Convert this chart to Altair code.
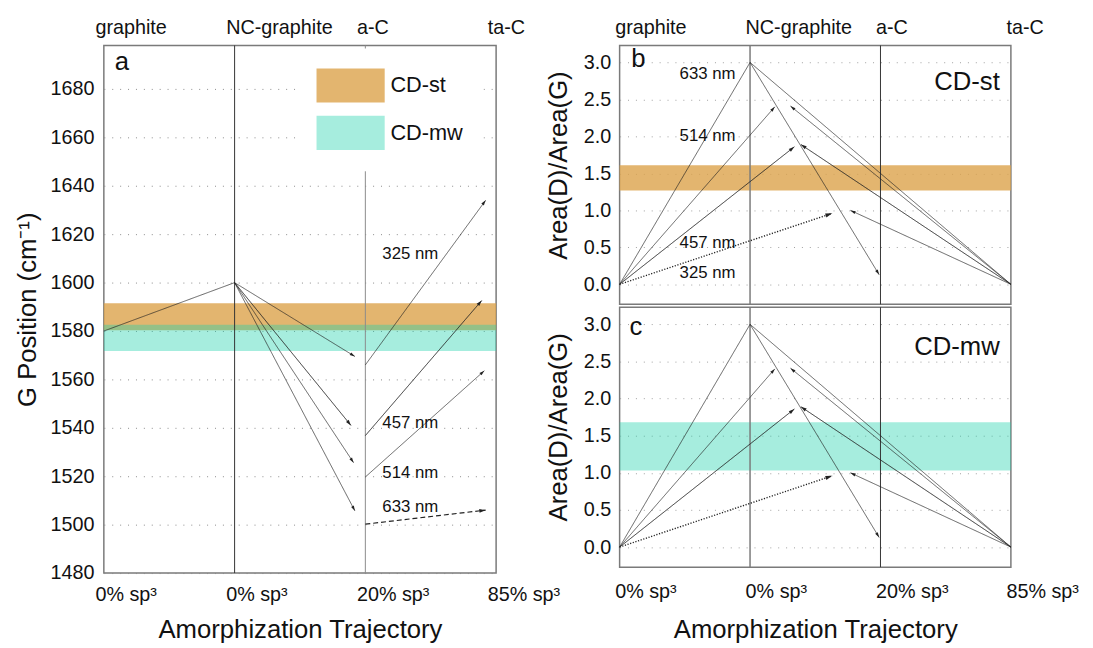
import json
import math
import altair as alt
import pandas as pd

FONT = "Liberation Sans"
INK = "#222222"

# ---------------- data ----------------
stage_pos = [0, 1, 2, 3]
stage_names = ["graphite", "NC-graphite", "a-C", "ta-C"]
stage_sp3 = ["0% sp³", "0% sp³", "20% sp³", "85% sp³"]

band_names = ["CD-st", "CD-mw"]
band_colors = ["rgba(220,163,75,0.8)", "rgba(33,210,172,0.4)"]

# panel a : G position
a_yticks = [1480, 1500, 1520, 1540, 1560, 1580, 1600, 1620, 1640, 1660, 1680]
a_band_lo = [1580.3, 1571.8]
a_band_hi = [1591.5, 1582.6]
a_aC_top = [1646]
a_x1 = [0, 1, 1, 1, 1, 2, 2, 2, 2]
a_y1 = [1580, 1600, 1600, 1600, 1600, 1566, 1536.8, 1519.7, 1500.2]
a_x2 = [1, 1.92, 1.89, 1.91, 1.92, 2.92, 2.89, 2.91, 2.92]
a_y2 = [1600, 1569.5, 1541, 1525.6, 1505.7, 1634, 1592.6, 1563.6, 1506]
a_style = ["thin", "thin", "thick", "thin", "thin", "thin", "thick", "thin", "dashed"]
a_head = [False, True, True, True, True, True, True, True, True]
a_lab_text = ["325 nm", "457 nm", "514 nm", "633 nm"]
a_lab_x = [2.13, 2.13, 2.13, 2.13]
a_lab_y = [1612, 1541.8, 1521.5, 1507.2]

# panels b, c : Area(D)/Area(G)
bc_yticks = [0.0, 0.5, 1.0, 1.5, 2.0, 2.5, 3.0]
b_band = [1.27, 1.61]
c_band = [1.03, 1.68]
bc_x1 = [0, 1, 3, 0, 3, 0, 3, 0, 3]
bc_y1 = [0, 3.0, 0, 0, 0, 0, 0, 0, 0]
bc_x2 = [1, 1.99, 1, 1.19, 1.31, 1.34, 1.39, 1.63, 1.77]
bc_y2 = [3.0, 0.13, 3.0, 2.40, 2.41, 1.86, 1.89, 0.96, 1.0]
bc_style = ["thin", "thin", "thin", "thin", "thin", "thick", "thick", "dotted", "thin"]
bc_head = [False, True, False, True, True, True, True, True, True]
b_lab_text = ["633 nm", "514 nm", "457 nm", "325 nm"]
b_lab_x = [0.46, 0.46, 0.46, 0.46]
b_lab_y = [2.84, 2.0, 0.56, 0.155]

# ---------------- layout / style ----------------
WA, HA = 397, 534
WB, HB, HC = 396, 262, 263
XDOM = [0, 3]
A_YDOM = [1480, 1698]
BC_YDOM = [-0.27, 3.23]

STYLE_DOMAIN = ["thin", "thick", "dashed", "dotted"]
STYLE_WIDTH = [0.7, 1.4, 0.9, 0.7]
STYLE_DASH = [[1, 0], [1, 0], [5, 3], [1.2, 1.6]]
STYLE_HEAD = [110, 190, 110, 110]
HEAD_PATH = "M0,0L-0.3,1L0.3,1Z"

XSC = alt.Scale(domain=XDOM, nice=False, zero=False)


def seg_frames(x1, y1, x2, y2, style, head, W, H, ydom):
    rows = []
    for i in range(len(x1)):
        sx = (x2[i] - x1[i]) * W / (XDOM[1] - XDOM[0])
        sy = (y2[i] - y1[i]) * H / (ydom[1] - ydom[0])
        ang = math.degrees(math.atan2(sx, sy)) % 360
        rows.append(dict(x1=x1[i], y1=y1[i], x2=x2[i], y2=y2[i],
                         style=style[i], head=head[i], ang=ang))
    df = pd.DataFrame(rows)
    return df, df[df["head"]].reset_index(drop=True)


def seg_layers(x1, y1, x2, y2, style, head, W, H, ysc, ydom, yaxis):
    segs, heads = seg_frames(x1, y1, x2, y2, style, head, W, H, ydom)
    lines = alt.Chart(segs).mark_rule(color=INK).encode(
        x=alt.X("x1:Q", scale=XSC, axis=None),
        x2="x2:Q",
        y=alt.Y("y1:Q", scale=ysc, axis=yaxis),
        y2="y2:Q",
        strokeWidth=alt.StrokeWidth("style:N", scale=alt.Scale(domain=STYLE_DOMAIN, range=STYLE_WIDTH), legend=None),
        strokeDash=alt.StrokeDash("style:N", scale=alt.Scale(domain=STYLE_DOMAIN, range=STYLE_DASH), legend=None),
    )
    tips = alt.Chart(heads).mark_point(shape=HEAD_PATH, filled=True, color=INK, opacity=1, strokeWidth=0).encode(
        x=alt.X("x2:Q", scale=XSC, axis=None),
        y=alt.Y("y2:Q", scale=ysc, axis=None),
        angle=alt.Angle("ang:Q", scale=None),
        size=alt.Size("style:N", scale=alt.Scale(domain=STYLE_DOMAIN, range=STYLE_HEAD), legend=None),
    )
    return [lines, tips]


def label_expr(labels):
    return json.dumps(labels, ensure_ascii=False) + "[datum.value]"


def stage_axis(orient, labels, offset, title=None, padding=7, title_pad=12):
    kw = dict(orient=orient, values=stage_pos, labelExpr=label_expr(labels), labelAlign="left",
              labelOffset=offset, labelFlush=False, labelOverlap=False, ticks=False, tickSize=0,
              domain=False, grid=False, labelFontSize=20, labelPadding=padding)
    if title:
        kw.update(title=title, titleFontSize=26, titlePadding=title_pad)
    else:
        kw.update(title=None)
    return alt.Axis(**kw)


stages = pd.DataFrame({"x": stage_pos})

# ---------------- panel a ----------------
ysc_a = alt.Scale(domain=A_YDOM, nice=False, zero=False)
bands_a = pd.DataFrame({"name": band_names, "lo": a_band_lo, "hi": a_band_hi})
yaxis_a = alt.Axis(values=a_yticks, format="d", grid=True, gridDash=[1, 7], gridColor="#8a8a8a", gridWidth=1,
                   ticks=False, domain=False, labelFontSize=20, labelPadding=10,
                   title="G Position (cm⁻¹)", titleFontSize=26, titlePadding=10)

a_bands = alt.Chart(bands_a).mark_rect().encode(
    x=alt.value(0), x2=alt.value(WA),
    y=alt.Y("lo:Q", scale=ysc_a, axis=None),
    y2="hi:Q",
    color=alt.Color("name:N", scale=alt.Scale(domain=band_names, range=band_colors),
                    legend=alt.Legend(orient="none", legendX=195, legendY=3, title=None,
                                      symbolType="M-1,-1H3V1H-1Z", symbolSize=1190,
                                      symbolStrokeWidth=0, symbolOpacity=1,
                                      labelFontSize=22, labelOffset=40, rowPadding=13,
                                      padding=20, fillColor="white", labelColor="#111")),
)

a_nc = alt.Chart(stages[stages.x == 1]).mark_rule(color="#333333", strokeWidth=1).encode(
    x=alt.X("x:Q", scale=XSC, axis=stage_axis("bottom", stage_sp3, -9, "Amorphization Trajectory", padding=12)),
)
a_ac = alt.Chart(pd.DataFrame({"x": [stage_pos[2]], "top": a_aC_top, "bot": [A_YDOM[0]]})).mark_rule(
    color="#8a8a8a", strokeWidth=1).encode(
    x=alt.X("x:Q", scale=XSC, axis=stage_axis("top", stage_names, -9, padding=8)),
    y=alt.Y("bot:Q", scale=ysc_a, axis=None), y2="top:Q",
)
a_tick = alt.Chart(pd.DataFrame({"x": [stage_pos[2]]})).mark_rule(color="#8a8a8a", strokeWidth=1).encode(
    x=alt.X("x:Q", scale=XSC, axis=None), y=alt.value(0), y2=alt.value(10),
)
a_labels = alt.Chart(pd.DataFrame({"t": a_lab_text, "x": a_lab_x, "y": a_lab_y})).mark_text(
    align="left", baseline="middle", fontSize=17, color="#111").encode(
    x=alt.X("x:Q", scale=XSC, axis=None), y=alt.Y("y:Q", scale=ysc_a, axis=None), text="t:N")
a_letter = alt.Chart(pd.DataFrame({"t": ["a"], "x": [0.083], "y": [1691]})).mark_text(
    align="left", baseline="middle", fontSize=26, color="#111").encode(
    x=alt.X("x:Q", scale=XSC, axis=None), y=alt.Y("y:Q", scale=ysc_a, axis=None), text="t:N")

panel_a = alt.layer(
    a_bands, a_nc, a_ac, a_tick,
    *seg_layers(a_x1, a_y1, a_x2, a_y2, a_style, a_head, WA, HA, ysc_a, A_YDOM, yaxis_a),
    a_labels, a_letter,
).resolve_axis(x="independent", y="independent").properties(width=WA, height=HA)


# ---------------- panels b, c ----------------
def bc_panel(H, band, color, letter, tag, top_axis, bottom_axis, labels):
    ysc = alt.Scale(domain=BC_YDOM, nice=False, zero=False)
    band_df = pd.DataFrame({"lo": [band[0]], "hi": [band[1]]})
    yaxis = alt.Axis(values=bc_yticks, format=".1f", grid=True, gridDash=[1, 7], gridColor="#a0a0a0",
                     gridWidth=1, ticks=False, domain=False, labelFontSize=20, labelPadding=9,
                     title="Area(D)/Area(G)", titleFontSize=26, titlePadding=12, titleY=121)
    bnd = alt.Chart(band_df).mark_rect(color=color).encode(
        x=alt.value(0), x2=alt.value(WB), y=alt.Y("lo:Q", scale=ysc, axis=None), y2="hi:Q")
    nc = alt.Chart(stages[stages.x == 1]).mark_rule(color="#7a7a7a", strokeWidth=1.5).encode(
        x=alt.X("x:Q", scale=XSC,
                axis=stage_axis("top", stage_names, -5, padding=8) if top_axis else
                (stage_axis("bottom", stage_sp3, -5, "Amorphization Trajectory", padding=15, title_pad=15)
                 if bottom_axis else None)))
    ac = alt.Chart(stages[stages.x == 2]).mark_rule(color="#333333", strokeWidth=1).encode(
        x=alt.X("x:Q", scale=XSC, axis=None))
    layers = [bnd, nc, ac] + seg_layers(bc_x1, bc_y1, bc_x2, bc_y2, bc_style, bc_head, WB, H, ysc, BC_YDOM, yaxis)
    if labels:
        layers.append(alt.Chart(pd.DataFrame({"t": b_lab_text, "x": b_lab_x, "y": b_lab_y})).mark_text(
            align="left", baseline="middle", fontSize=17, color="#111").encode(
            x=alt.X("x:Q", scale=XSC, axis=None), y=alt.Y("y:Q", scale=ysc, axis=None), text="t:N"))
    layers.append(alt.Chart(pd.DataFrame({"t": [letter[0]], "x": [letter[1]], "y": [letter[2]]})).mark_text(
        align="left", baseline="middle", fontSize=26, color="#111").encode(
        x=alt.X("x:Q", scale=XSC, axis=None), y=alt.Y("y:Q", scale=ysc, axis=None), text="t:N"))
    layers.append(alt.Chart(pd.DataFrame({"t": [tag[0]], "x": [tag[1]], "y": [tag[2]]})).mark_text(
        align="right", baseline="middle", fontSize=26, color="#111").encode(
        x=alt.X("x:Q", scale=XSC, axis=None), y=alt.Y("y:Q", scale=ysc, axis=None), text="t:N"))
    return alt.layer(*layers).resolve_axis(x="independent", y="independent").properties(width=WB, height=H)


panel_b = bc_panel(HB, b_band, band_colors[0], ("b", 0.09, 3.04), ("CD-st", 2.915, 2.73),
                   top_axis=True, bottom_axis=False, labels=True)
panel_c = bc_panel(HC, c_band, band_colors[1], ("c", 0.075, 2.96), ("CD-mw", 2.915, 2.70),
                   top_axis=False, bottom_axis=True, labels=False)

right = alt.VConcatChart(vconcat=[panel_b, panel_c], spacing=3, bounds="flush")

chart = alt.HConcatChart(hconcat=[panel_a, right], spacing=125, bounds="flush").resolve_scale(
    color="independent").resolve_legend(color="independent").configure(
    font=FONT).configure_view(stroke="#7a7a7a", strokeWidth=1.5).configure_axis(
    labelFont=FONT, titleFont=FONT, labelColor="#111", titleColor="#111", titleFontWeight="normal")

chart.save("out.html", embed_options={"renderer": "svg", "actions": False})
